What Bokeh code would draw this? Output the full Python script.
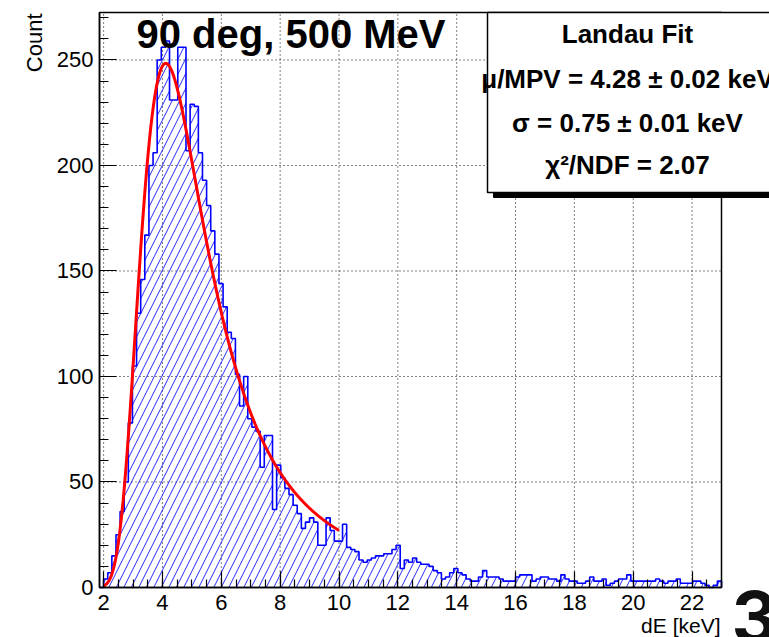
import math
import numpy as np
from bokeh.plotting import figure
from bokeh.models import Label, Range1d, SingleIntervalTicker
from bokeh.embed import file_html
from bokeh.resources import INLINE

# ---- histogram: energy deposit dE in keV, fixed-width bins ----
bin_low = 1.86
bin_width = 0.14
counts = [
    0,
    4, 7, 15, 25, 36, 50, 78, 105, 130, 146,
    167, 200, 206, 250, 256, 259, 231, 231, 256, 256,
    207, 229, 228, 206, 193, 181, 169, 158, 144, 133,
    121, 118, 101, 86, 100, 80, 76, 74, 57, 72,
    72, 37, 58, 52, 47, 44, 39, 35, 28, 31,
    33, 31, 20, 20, 33, 27, 22, 22, 30, 19,
    18, 17, 13, 12, 13, 14, 15, 15, 16, 16,
    18, 20, 9, 13, 12, 14, 12, 11, 11, 10,
    8, 7, 4, 5, 7, 9, 7, 6, 4, 3,
    3, 5, 8, 5, 5, 5, 4, 3, 3, 3,
    5, 6, 6, 6, 3, 4, 5, 5, 4, 4,
    3, 6, 4, 3, 3, 2, 2, 3, 5, 3,
    3, 4, 1, 2, 3, 4, 4, 6, 3, 3,
    3, 3, 3, 3, 4, 3, 2, 3, 3, 4,
    2, 2, 2, 3, 3, 2, 1, 0, 1, 3,
]

# ---- Landau fit result ----
fit_mpv = 4.28
fit_mpv_err = 0.02
fit_sigma = 0.75
fit_sigma_err = 0.01
fit_chi2_ndf = 2.07
fit_const = 1375.0
fit_range = (2.0, 10.0)

title_text = "90 deg, 500 MeV"
x_title = "dE [keV]"
y_title = "Count"
panel_tag = "3"

# axis extents and major tick positions
x_lo, x_hi = 1.86, 23.0
y_lo, y_hi = 0.0, 272.5
x_major = [2, 4, 6, 8, 10, 12, 14, 16, 18, 20, 22]
y_major = [0, 50, 100, 150, 200, 250]


def landau_density(lam):
    """Landau density via the inverse Laplace (Bromwich) integral."""
    t = np.linspace(-50.0, 50.0, 20001)
    out = np.empty(len(lam))
    for k, l in enumerate(lam):
        c = float(np.clip(np.exp(-1.0 - l), 0.2, 20.0))
        s = c + 1j * t
        f = np.exp(s * np.log(s) + l * s)
        out[k] = np.trapezoid(f.real, t) / (2.0 * np.pi)
    return out


# canvas geometry: the data frame covers the whole canvas, and the
# histogram box sits inside it with ROOT-like margins
W, H = 769, 637
PAD_L, PAD_R, PAD_T, PAD_B = 99, 48, 12, 50
sx_scale = (W - PAD_L - PAD_R) / (x_hi - x_lo)
sy_scale = (H - PAD_T - PAD_B) / (y_hi - y_lo)
x_start = x_lo - PAD_L / sx_scale
x_end = x_hi + PAD_R / sx_scale
y_start = y_lo - PAD_B / sy_scale
y_end = y_hi + PAD_T / sy_scale


def dx(px):
    return x_start + px / sx_scale


def dy(py):
    return y_end - py / sy_scale


def text_y(baseline_px, size_px):
    # anchor for a label whose glyph baseline should sit at baseline_px
    return dy(baseline_px - 0.35 * size_px)


p = figure(width=W, height=H, output_backend="svg", toolbar_location=None,
           x_range=Range1d(x_start, x_end), y_range=Range1d(y_start, y_end),
           min_border_left=0, min_border_right=0,
           min_border_top=0, min_border_bottom=0)
p.background_fill_color = "white"
p.border_fill_color = "white"
p.outline_line_color = None
p.xgrid.visible = False
p.ygrid.visible = False

# dotted grid at the major ticks, limited to the histogram box
p.segment(x0=x_major, y0=[y_lo] * len(x_major), x1=x_major, y1=[y_hi] * len(x_major),
          line_color="black", line_width=1, line_dash="1 3")
p.segment(x0=[x_lo] * len(y_major), y0=y_major, x1=[x_hi] * len(y_major), y1=y_major,
          line_color="black", line_width=1, line_dash="1 3")

# histogram envelope
edges = bin_low + bin_width * np.arange(len(counts) + 1)
cnt = np.asarray(counts, dtype=float)
hx = np.concatenate([[edges[0]], np.repeat(edges, 2)[1:-1], [edges[-1]]])
hy = np.concatenate([[0.0], np.repeat(cnt, 2), [0.0]])

p.patch(hx, hy, fill_color=None, line_color=None,
        hatch_pattern="/", hatch_color="#2a2aff", hatch_weight=1.0, hatch_scale=15)
p.line(hx, hy, line_color="#0000ff", line_width=1.6)

# Landau fit curve
fx = np.linspace(fit_range[0], fit_range[1], 400)
fy = fit_const * landau_density((fx - fit_mpv) / fit_sigma)
p.line(fx, fy, line_color="#ff0000", line_width=3)

# histogram box
p.quad(left=[x_lo], right=[x_hi], bottom=[y_lo], top=[y_hi],
       fill_color=None, line_color="black", line_width=1.5)

# axes pinned to the box edges
p.xaxis.fixed_location = y_lo
p.yaxis.fixed_location = x_lo
p.xaxis.bounds = (x_lo, x_hi)
p.yaxis.bounds = (y_lo, y_hi)
for ax in (p.xaxis[0], p.yaxis[0]):
    ax.axis_line_color = "black"
    ax.axis_line_width = 1.5
    ax.major_tick_line_color = "black"
    ax.minor_tick_line_color = "black"
    ax.major_tick_line_width = 1.2
    ax.minor_tick_line_width = 1.2
    ax.major_tick_out = 0
    ax.minor_tick_out = 0
    ax.major_label_text_font = "Liberation Sans"
    ax.major_label_text_font_size = "22px"
    ax.major_label_text_color = "black"

p.xaxis.ticker = SingleIntervalTicker(interval=2, num_minor_ticks=4)
p.yaxis.ticker = SingleIntervalTicker(interval=50, num_minor_ticks=5)
p.xaxis.major_tick_in = 16
p.xaxis.minor_tick_in = 8
p.yaxis.major_tick_in = 17
p.yaxis.minor_tick_in = 9
p.xaxis.major_label_standoff = 7
p.yaxis.major_label_standoff = 6

# axis titles
p.add_layout(Label(x=dx(720), y=text_y(632, 21), text=x_title, text_align="right",
                   text_baseline="alphabetic", text_font="Liberation Sans",
                   text_font_size="21px", text_color="black"))
p.add_layout(Label(x=dx(21), y=dy(13), text=y_title, angle=math.pi / 2,
                   text_align="right", text_baseline="top",
                   text_font="Liberation Sans", text_font_size="22px",
                   text_color="black"))

# title
p.add_layout(Label(x=dx(136), y=text_y(47, 40), text=title_text, text_align="left",
                   text_baseline="alphabetic", text_font="Liberation Sans",
                   text_font_style="bold", text_font_size="40px",
                   text_color="black"))

# fit statistics box with shadow
p.quad(left=[dx(493)], right=[dx(800)], top=[dy(17)], bottom=[dy(197)],
       fill_color="black", line_color="black")
p.quad(left=[dx(487)], right=[dx(795)], top=[dy(12)], bottom=[dy(192)],
       fill_color="white", line_color="black", line_width=1.5)

stats_lines = [
    ("Landau Fit", 43),
    (f"\u03bc/MPV = {fit_mpv:.2f} \u00b1 {fit_mpv_err:.2f} keV", 88),
    (f"\u03c3 = {fit_sigma:.2f} \u00b1 {fit_sigma_err:.2f} keV", 132),
    (f"\u03c7\u00b2/NDF = {fit_chi2_ndf:.2f}", 174),
]
for txt, base in stats_lines:
    p.add_layout(Label(x=dx(627), y=text_y(base, 26), text=txt, text_align="center",
                       text_baseline="alphabetic", text_font="Liberation Sans",
                       text_font_style="bold", text_font_size="26px",
                       text_color="black"))

# panel number
p.add_layout(Label(x=dx(731), y=text_y(642, 72), text=panel_tag, text_align="left",
                   text_baseline="alphabetic", text_font="Inter",
                   text_font_style="bold", text_font_size="72px",
                   text_color="#111111"))

open("out.html", "w").write(file_html(p, INLINE))
